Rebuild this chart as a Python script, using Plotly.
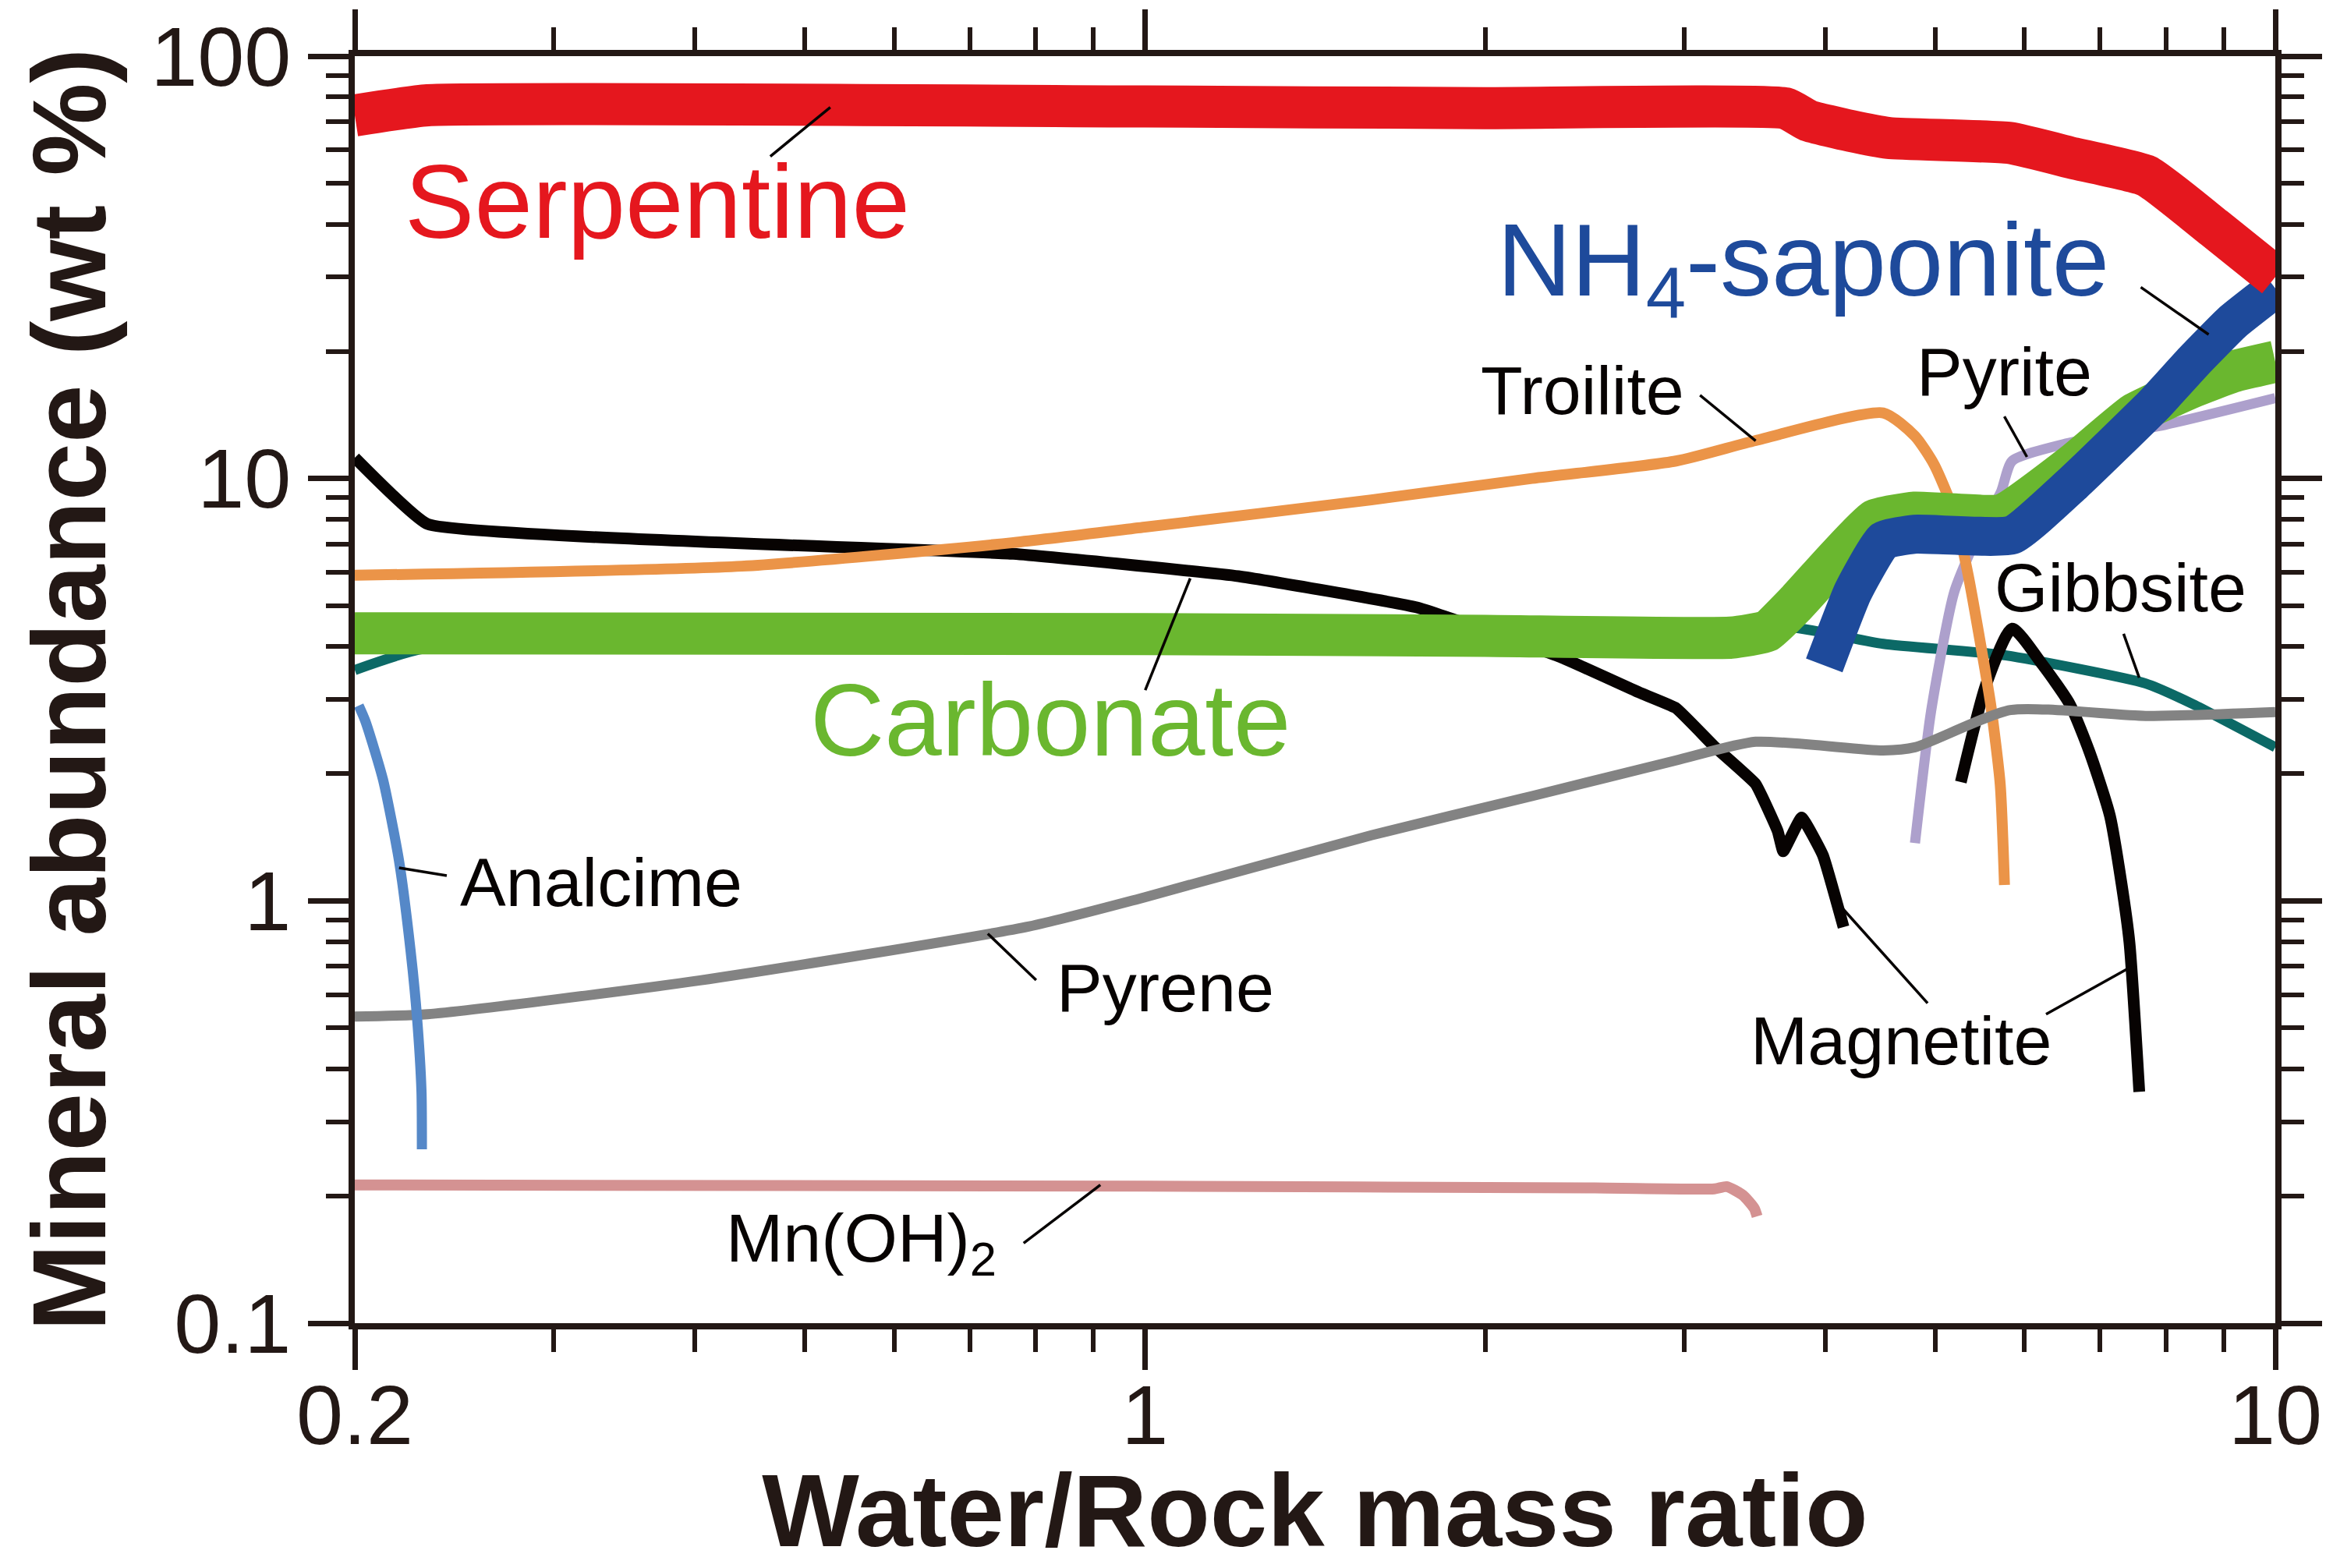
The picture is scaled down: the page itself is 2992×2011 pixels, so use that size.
import numpy as np
import plotly.graph_objects as go

# ---------------- data (wt %) vs Water/Rock mass ratio ----------------
serp_x = [0.2, 0.232, 1.0, 2.0, 3.69, 3.86, 4.21, 4.55, 5.82, 6.63, 7.70, 8.83, 10.0]
serp_y = [72.4, 76.5, 76.0, 75.3, 75.2, 70.4, 66.5, 64.0, 62.3, 57.3, 52.0, 39.2, 30.0]

carb_x = [0.2, 1.0, 2.0, 3.3, 3.55, 3.76, 4.08, 4.42, 4.80, 5.73, 6.63, 7.50, 8.46, 9.17, 10.0]
carb_y = [4.30, 4.28, 4.24, 4.20, 4.35, 5.04, 6.41, 7.96, 8.30, 8.20, 10.8, 14.2, 16.5, 17.9, 18.9]

sapo_x = [3.99, 4.23, 4.50, 4.80, 5.85, 6.63, 7.80, 8.46, 9.17, 10.0]
sapo_y = [3.61, 5.39, 7.13, 7.38, 7.35, 9.77, 14.9, 18.9, 23.5, 28.2]

troi_x = [0.2, 0.44, 0.765, 1.0, 1.586, 2.2, 2.95, 3.47, 4.50, 4.80, 4.99, 5.20, 5.35, 5.50, 5.60, 5.71, 5.76]
troi_y = [5.9, 6.2, 7.05, 7.67, 8.9, 10.0, 11.0, 12.3, 14.3, 12.6, 10.8, 8.3, 5.9, 3.9, 2.92, 1.89, 1.09]

pyri_x = [4.80, 4.96, 5.20, 5.47, 5.72, 5.85, 6.53, 7.99, 10.0]
pyri_y = [1.37, 2.81, 5.39, 7.46, 9.3, 11.0, 12.1, 13.4, 15.5]

gibb_x = [0.2, 0.23, 1.0, 3.3, 3.76, 4.50, 5.78, 7.68, 8.46, 10.0]
gibb_y = [3.52, 3.95, 4.30, 4.35, 4.43, 4.06, 3.81, 3.27, 2.92, 2.31]

pyrn_x = [0.2, 0.232, 0.404, 0.79, 1.0, 1.586, 2.2, 2.95, 3.47, 4.50, 4.80, 5.83, 7.68, 10.0]
pyrn_y = [0.532, 0.539, 0.648, 0.87, 1.02, 1.43, 1.77, 2.15, 2.38, 2.27, 2.31, 2.83, 2.74, 2.80]

magA_x = [0.2, 0.232, 0.765, 1.21, 1.74, 2.33, 2.74, 2.95, 3.19, 3.47, 3.63, 3.67, 3.81, 3.98, 4.15]
magA_y = [11.2, 7.8, 6.63, 5.87, 4.95, 3.78, 3.11, 2.86, 2.32, 1.89, 1.46, 1.31, 1.575, 1.28, 0.867]
magB_x = [5.27, 5.55, 5.85, 6.22, 6.58, 6.85, 7.14, 7.31, 7.43, 7.58]
magB_y = [1.91, 3.26, 4.41, 3.63, 2.92, 2.25, 1.59, 1.10, 0.796, 0.353]

anal_x = [0.2016, 0.2044, 0.2118, 0.2188, 0.224, 0.227, 0.2291, 0.2293]
anal_y = [2.90, 2.66, 1.94, 1.25, 0.768, 0.532, 0.354, 0.258]

mnoh_x = [0.2, 1.0, 2.5, 3.19, 3.27, 3.38, 3.46, 3.48]
mnoh_y = [0.2125, 0.211, 0.209, 0.208, 0.2105, 0.201, 0.187, 0.179]

x_tickvals = [0.2, 1, 10]
x_ticktext = ["0.2", "1", "10"]
x_minor = [0.3, 0.4, 0.5, 0.6, 0.7, 0.8, 0.9, 2, 3, 4, 5, 6, 7, 8, 9]
y_tickvals = [0.1, 1, 10, 100]
y_ticktext = ["0.1", "1", "10", "100"]
y_minor = [m * d for d in (0.1, 1, 10) for m in range(2, 10)]

# colours
RED = "#E5171E"
BLUE = "#1E4A9B"
GREEN = "#6AB72F"
ORANGE = "#EB9448"
LAV = "#ADA0CC"
TEAL = "#0C6966"
GRAY = "#838383"
BLACK = "#070302"
ABLUE = "#5588C8"
PINK = "#D49292"
AXC = "#231815"
FONT = "Liberation Sans, Arial, sans-serif"

fig = go.Figure()


def add_line(x, y, color, width, smooth=0.0):
    line = dict(color=color, width=width)
    if smooth > 0:
        line.update(shape="spline", smoothing=smooth)
    fig.add_trace(go.Scatter(x=x, y=y, mode="lines", line=line,
                             hoverinfo="skip", showlegend=False))


add_line(mnoh_x, mnoh_y, PINK, 14, 0.6)
add_line(gibb_x, gibb_y, TEAL, 13, 0.5)
add_line(magA_x, magA_y, BLACK, 15, 0.3)
add_line(magB_x, magB_y, BLACK, 15, 0.6)
add_line(pyri_x, pyri_y, LAV, 13, 0.6)
add_line(troi_x, troi_y, ORANGE, 14, 0.6)
add_line(pyrn_x, pyrn_y, GRAY, 13, 0.6)
add_line(anal_x, anal_y, ABLUE, 13, 0.6)
add_line(carb_x, carb_y, GREEN, 54, 0.4)
add_line(sapo_x, sapo_y, BLUE, 50, 0.4)
add_line(serp_x, serp_y, RED, 54, 0.4)

# leader lines (log10 coordinates of their two ends)
leaders = [
    ((-0.3314, 1.7627), (-0.2783, 1.879)),    # Serpentine
    ((0.881, 1.4528), (0.941, 1.341)),        # NH4-saponite
    ((0.4911, 1.197), (0.5403, 1.0893)),      # Troilite
    ((0.7603, 1.147), (0.7803, 1.0511)),      # Pyrite
    ((0.8658, 0.6321), (0.8796, 0.5284)),     # Gibbsite
    ((0.6176, -0.0192), (0.6924, -0.2423)),   # Magnetite 1
    ((0.7972, -0.2686), (0.8727, -0.1557)),   # Magnetite 2
    ((-0.139, -0.0777), (-0.0962, -0.1875)),  # Pyrene
    ((-0.6598, 0.0782), (-0.6176, 0.0598)),   # Analcime
    ((-0.1073, -0.8107), (-0.0394, -0.6727)), # Mn(OH)2
    ((0.0003, 0.4989), (0.0401, 0.7635)),     # Carbonate
]
for (a, b) in leaders:
    fig.add_trace(go.Scatter(x=[10 ** a[0], 10 ** b[0]], y=[10 ** a[1], 10 ** b[1]],
                             mode="lines", line=dict(color=BLACK, width=3.5),
                             hoverinfo="skip", showlegend=False))

labels = [
    ("Serpentine", -0.4314, 1.6557, 134, RED),
    ("NH<sub>4</sub>-saponite", 0.582, 1.4989, 132, BLUE),
    ("Troilite", 0.3872, 1.2092, 88, BLACK),
    ("Pyrite", 0.7603, 1.2535, 88, BLACK),
    ("Gibbsite", 0.8631, 0.7424, 88, BLACK),
    ("Magnetite", 0.6686, -0.3314, 88, BLACK),
    ("Pyrene", 0.0182, -0.2059, 88, BLACK),
    ("Analcime", -0.4807, 0.0443, 88, BLACK),
    ("Mn(OH)<sub>2</sub>", -0.2507, -0.808, 88, BLACK),
    ("Carbonate", -0.0838, 0.4288, 132, GREEN),
]
for text, lx, ly, size, col in labels:
    fig.add_annotation(x=lx, y=ly, xref="x", yref="y", text=text, showarrow=False,
                       xanchor="center", yanchor="middle",
                       font=dict(family=FONT, size=size, color=col))

axis_common = dict(
    type="log", showline=True, linewidth=8, linecolor=AXC, mirror="allticks",
    ticks="outside", ticklen=52, tickwidth=7, tickcolor=AXC,
    showgrid=False, zeroline=False, automargin=False,
    tickfont=dict(family=FONT, size=108, color=AXC),
)

fig.update_xaxes(
    **axis_common,
    range=[np.log10(0.2), 1.0],
    tickmode="array", tickvals=x_tickvals, ticktext=x_ticktext,
    ticklabelstandoff=-35,
    minor=dict(tickmode="array", tickvals=x_minor, ticks="outside",
               ticklen=29, tickwidth=6, tickcolor=AXC, showgrid=False),
    title=dict(text="Water/Rock mass ratio",
               font=dict(family=FONT, size=132, color=AXC, weight="bold")),
)
fig.update_yaxes(
    **axis_common,
    range=[-1, 2],
    tickmode="array", tickvals=y_tickvals, ticktext=y_ticktext,
    minor=dict(tickmode="array", tickvals=y_minor, ticks="outside",
               ticklen=29, tickwidth=6, tickcolor=AXC, showgrid=False),
    title=dict(text="Mineral abundance (wt %)",
               font=dict(family=FONT, size=134, color=AXC, weight="bold")),
)

fig.update_layout(
    width=2992, height=2011,
    margin=dict(l=455, r=74, t=72, b=314, pad=0),
    plot_bgcolor="white", paper_bgcolor="white",
    showlegend=False,
    font=dict(family=FONT, color=AXC),
)

fig.write_html("out.html")
